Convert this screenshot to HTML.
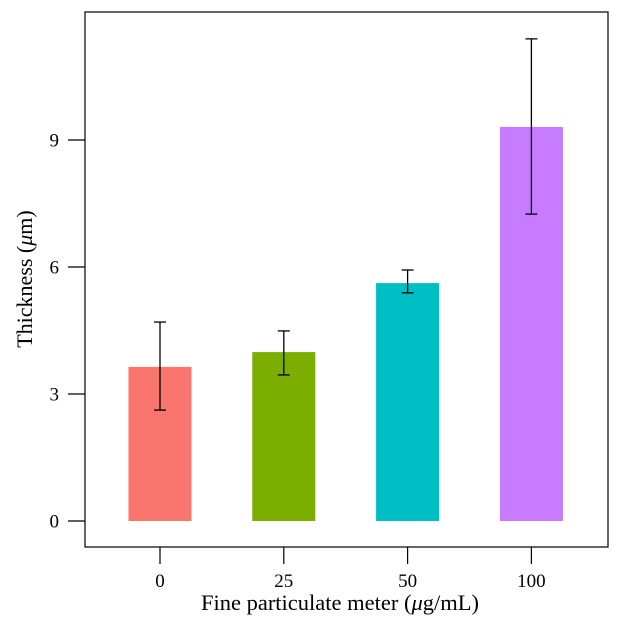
<!DOCTYPE html>
<html><head><meta charset="utf-8"><style>
html,body{margin:0;padding:0;background:#fff;}
svg{display:block;font-family:"Liberation Serif",serif;}
</style></head><body>
<svg id="chart" width="621" height="637" viewBox="0 0 621 637">
<rect x="85" y="12" width="523" height="535" fill="none" stroke="#000" stroke-width="1.2"/>
<g id="bars"></g>
<g id="axes"></g>
<text x="32" y="279" transform="rotate(-90 32 279)" text-anchor="middle" font-size="22">Thickness (<tspan font-style="italic">μ</tspan>m)</text>
<text x="340" y="610" text-anchor="middle" font-size="22.5">Fine particulate meter (<tspan font-style="italic">μ</tspan>g/mL)</text>
</svg>
<script>
const categories = ["0", "25", "50", "100"];
const values = [3.64, 3.99, 5.62, 9.31];
const errLow = [2.62, 3.45, 5.39, 7.25];
const errHigh = [4.70, 4.49, 5.93, 11.39];
const colors = ["#F8766D", "#7CAE00", "#00BFC4", "#C77CFF"];
const yTicks = [0, 3, 6, 9];

const NS = "http://www.w3.org/2000/svg";
const y0px = 521, pxPerUnit = 42.33;
function yScale(v){ return y0px - v * pxPerUnit; }
const xStart = 160, xStep = 123.8;
function xScale(i){ return xStart + i * xStep; }
const barW = 63;
function mk(tag, attrs){ const e = document.createElementNS(NS, tag); for (const k in attrs) e.setAttribute(k, attrs[k]); return e; }
const bars = document.getElementById("bars");
const axes = document.getElementById("axes");
categories.forEach((c, i) => {
  const cx = xScale(i);
  const r = mk("rect", {x: cx - barW/2, y: yScale(values[i]), width: barW, height: yScale(0) - yScale(values[i]), fill: colors[i]});
  
  
  bars.appendChild(r);
  const g = mk("g", {stroke: "#000", "stroke-width": 1.3});
  
  
  g.appendChild(mk("line", {x1: cx, x2: cx, y1: yScale(errLow[i]), y2: yScale(errHigh[i])}));
  g.appendChild(mk("line", {x1: cx - 6, x2: cx + 6, y1: yScale(errLow[i]), y2: yScale(errLow[i])}));
  g.appendChild(mk("line", {x1: cx - 6, x2: cx + 6, y1: yScale(errHigh[i]), y2: yScale(errHigh[i])}));
  bars.appendChild(g);
  const t = mk("line", {x1: cx, x2: cx, y1: 547, y2: 564, stroke: "#000", "stroke-width": 1.2});
  
  
  axes.appendChild(t);
  const l = mk("text", {x: cx, y: 587, "text-anchor": "middle", "font-size": 19});
  
  
  l.textContent = c;
  axes.appendChild(l);
});
yTicks.forEach(v => {
  const y = yScale(v);
  const t = mk("line", {x1: 68, x2: 85, y1: y, y2: y, stroke: "#000", "stroke-width": 1.2});
  
  
  axes.appendChild(t);
  const l = mk("text", {x: 59, y: y + 6.5, "text-anchor": "end", "font-size": 19});
  
  
  l.textContent = v;
  axes.appendChild(l);
});
</script>
</body></html>
